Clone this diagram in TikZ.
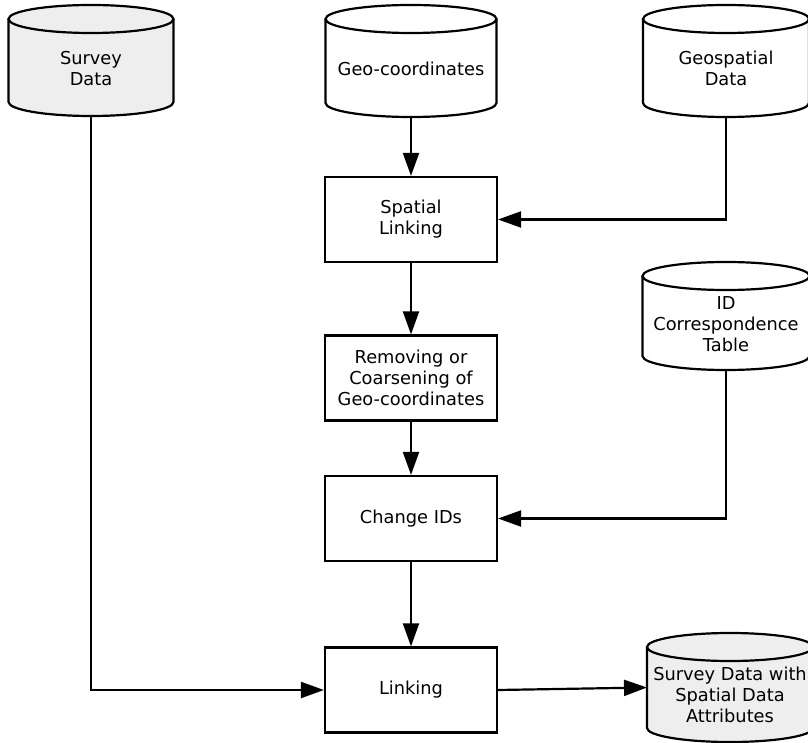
\documentclass[tikz,border=0pt]{standalone}
\usepackage{fontspec}
\setmainfont{DejaVu Sans}
\usetikzlibrary{arrows.meta}
\pgfdeclarelayer{bg}
\pgfsetlayers{bg,main}
\definecolor{dbgrey}{HTML}{EEEEEE}
\newcommand\lowtext[1]{\raisebox{-10pt}[\height][\depth]{\begin{tabular}{@{}c@{}}#1\end{tabular}}}
\newcommand\cylbody[3]{%
  \fill[#3] ([yshift=-14pt]#1.north west) -- ([yshift=14pt]#1.south west)
    arc[start angle=180,end angle=360,x radius=#2,y radius=14pt]
    -- ([yshift=-14pt]#1.north east)
    arc[start angle=0,end angle=180,x radius=#2,y radius=14pt] -- cycle;
  \draw[dbline] ([yshift=-14pt]#1.north) ellipse[x radius=#2,y radius=14pt];
  \draw[dbline] ([yshift=-14pt]#1.north west) -- ([yshift=14pt]#1.south west)
    arc[start angle=180,end angle=360,x radius=#2,y radius=14pt]
    -- ([yshift=-14pt]#1.north east);
}
\tikzset{
  every node/.style={font=\fontsize{17.8}{21}\selectfont},
  proc/.style={draw, line width=2.2pt, minimum width=172pt, minimum height=85pt, inner sep=0pt, align=center},
  db/.style={inner sep=0pt, outer sep=0pt},
  arr/.style={line width=2.2pt, -{Triangle[length=23pt,width=16pt]}},
  dbline/.style={line width=2.2pt},
}
\begin{document}
\begin{tikzpicture}[x=1pt,y=-1pt]
\useasboundingbox (0,0) rectangle (808,743);
% cylinders (data stores)
\node[db, minimum width=165pt, minimum height=111pt] (sd)  at (91,60.5)    {\lowtext{Survey\\Data}};
\node[db, minimum width=171pt, minimum height=112pt] (gc)  at (411,61)     {\lowtext{Geo-coordinates}};
\node[db, minimum width=166pt, minimum height=112pt] (gsd) at (726,61)     {\lowtext{Geospatial\\Data}};
\node[db, minimum width=167pt, minimum height=108pt] (idt) at (726,316)    {\lowtext{ID\\Correspondence\\Table}};
\node[db, minimum width=166pt, minimum height=109pt] (out) at (730,687.5)  {\lowtext{Survey Data with\\Spatial Data\\Attributes}};
% process boxes
\node[proc] (sl) at (411,219.5) {Spatial\\Linking};
\node[proc] (rm) at (411,378)   {Removing or\\Coarsening of\\Geo-coordinates};
\node[proc] (ci) at (411,518.5) {Change IDs};
\node[proc] (lk) at (411,690)   {Linking};
\begin{pgfonlayer}{bg}
  \cylbody{sd}{82.5pt}{dbgrey}
  \cylbody{gc}{85.5pt}{white}
  \cylbody{gsd}{83pt}{white}
  \cylbody{idt}{83.5pt}{white}
  \cylbody{out}{83pt}{dbgrey}
\end{pgfonlayer}
% connectors
\draw[arr] (gc.south) -- (sl.north);
\draw[arr] (gsd.south) |- (sl.east);
\draw[arr] (sl.south) -- (rm.north);
\draw[arr] (rm.south) -- (ci.north);
\draw[arr] (idt.south) |- (ci.east);
\draw[arr] (ci.south) -- (lk.north);
\draw[arr] (sd.south) |- (lk.west);
\draw[arr] (lk.east) -- (out.west);
\end{tikzpicture}
\end{document}
